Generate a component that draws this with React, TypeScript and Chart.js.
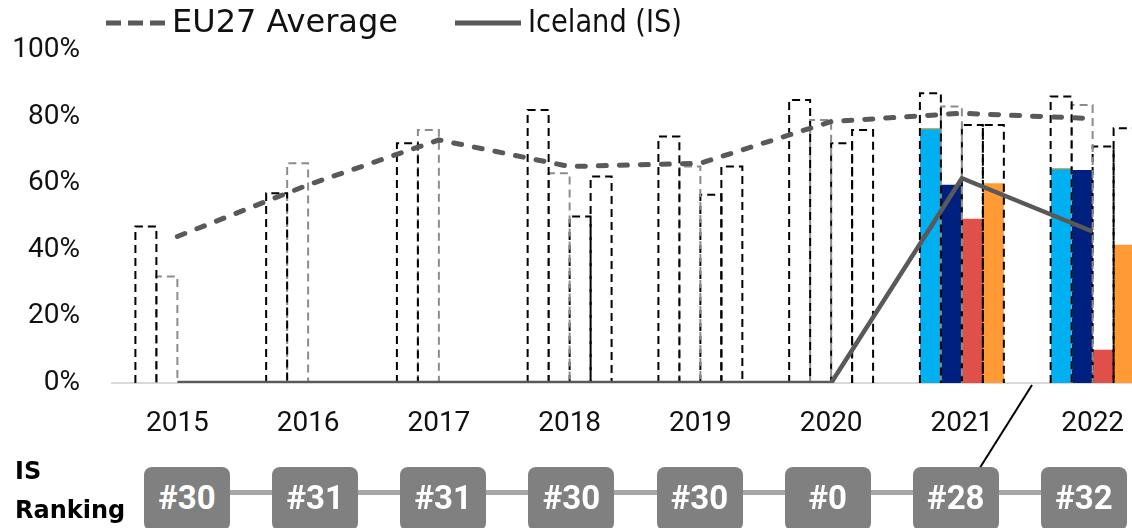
import React, { useEffect, useRef } from "react";
import { Chart, registerables } from "chart.js";

Chart.register(...registerables);

// ---- Data ----
const years = ["2015", "2016", "2017", "2018", "2019", "2020", "2021", "2022"];

// Iceland component values (filled bars)
const isComp1 = [0, 0, 0, 0, 0, 0, 76.5, 64.5];
const isComp2 = [0, 0, 0, 0, 0, 0, 59.5, 64];
const isComp3 = [0, 0, 0, 0, 0, 0, 49.3, 10];
const isComp4 = [0, 0, 0, 0, 0, 0, 60, 41.5];

// EU27 component averages (dashed outline bars)
const euComp1 = [47, 57, 72, 82, 74, 85, 87, 86];
const euComp2 = [32, 66, 76, 63, 65, 79, 83, 83.5];
const euComp3 = [null, null, null, 50, 56.5, 72, 77.5, 71];
const euComp4 = [null, null, null, 62, 65, 76, 77.5, 76.5];

// Overall lines
const eu27Average = [44, 59.5, 73, 65, 66, 78.5, 81, 79.4];
const icelandTotal = [0, 0, 0, 0, 0, 0, 61.5, 45.5];

// Ranking row
const rankings = ["#30", "#31", "#31", "#30", "#30", "#0", "#28", "#32"];

const legendLabels = ["EU27 Average", "Iceland (IS)"];

const LINE_GREY = "#595959";

const dashedOutlinePlugin = {
  id: "dashedOutline",
  afterDatasetDraw(chart: any, args: any) {
    const ds = chart.data.datasets[args.index];
    if (!ds.outlineColor) return;
    const ctx = chart.ctx;
    ctx.save();
    ctx.strokeStyle = ds.outlineColor;
    ctx.lineWidth = 2;
    ctx.setLineDash([8, 5]);
    args.meta.data.forEach((el: any, i: number) => {
      const v = ds.data[i];
      if (v == null) return;
      const { x, y, base, width } = el.getProps(["x", "y", "base", "width"], true);
      const l = x - width / 2;
      const r = x + width / 2;
      ctx.beginPath();
      ctx.moveTo(l, base);
      ctx.lineTo(l, y);
      ctx.lineTo(r, y);
      ctx.lineTo(r, base);
      ctx.stroke();
    });
    ctx.restore();
  },
};

const decorPlugin = {
  id: "decor",
  afterDraw(chart: any) {
    const ctx = chart.ctx;
    ctx.save();
    // legend
    const ly = 23;
    ctx.strokeStyle = LINE_GREY;
    ctx.lineWidth = 5;
    ctx.setLineDash([15, 7]);
    ctx.beginPath();
    ctx.moveTo(106, ly);
    ctx.lineTo(165, ly);
    ctx.stroke();
    ctx.setLineDash([]);
    ctx.beginPath();
    ctx.moveTo(455, ly);
    ctx.lineTo(521, ly);
    ctx.stroke();
    ctx.fillStyle = "#111";
    ctx.font = "32px 'DejaVu Sans'";
    ctx.textBaseline = "middle";
    ctx.textAlign = "left";
    ctx.fillText(legendLabels[0], 172, ly + 1, 226);
    ctx.fillText(legendLabels[1], 528, ly + 1, 154);
    // leader line
    ctx.strokeStyle = "#000";
    ctx.lineWidth = 2;
    ctx.beginPath();
    ctx.moveTo(1032, 385);
    ctx.lineTo(942, 528);
    ctx.stroke();
    ctx.restore();
  },
};

export default function App() {
  const ref = useRef<HTMLCanvasElement>(null);

  useEffect(() => {
    if (!ref.current) return;
    const tickFont = { family: "Roboto", size: 28 };
    const stacks = ["c1", "c2", "c3", "c4"];
    const isColors = ["#00B0F0", "#002080", "#E0504A", "#FF9A35"];
    const isData = [isComp1, isComp2, isComp3, isComp4];
    const euData = [euComp1, euComp2, euComp3, euComp4];
    const euOutline = ["#000000", "#8C8C8C", "#000000", "#000000"];

    const datasets: any[] = [
      {
        type: "line",
        label: legendLabels[0],
        data: eu27Average,
        borderColor: LINE_GREY,
        borderWidth: 5,
        borderDash: [8, 13],
        borderCapStyle: "round",
        pointRadius: 0,
        tension: 0,
        order: 1,
      },
      {
        type: "line",
        label: legendLabels[1],
        data: icelandTotal,
        borderColor: LINE_GREY,
        borderWidth: 4.5,
        pointRadius: 0,
        tension: 0,
        order: 1,
      },
    ];
    euData.forEach((d, i) => {
      datasets.push({
        type: "bar",
        label: "EU " + stacks[i],
        data: d,
        stack: stacks[i],
        backgroundColor: "rgba(0,0,0,0)",
        borderWidth: 0,
        outlineColor: euOutline[i],
        order: 2,
      });
    });
    isData.forEach((d, i) => {
      datasets.push({
        type: "bar",
        label: "IS " + stacks[i],
        data: d,
        stack: stacks[i],
        backgroundColor: isColors[i],
        borderColor: i === 0 ? "#548235" : isColors[i],
        borderWidth: i === 0 ? { top: 1.5, left: 0, right: 0, bottom: 0 } : 0,
        order: 3,
      });
    });

    const chart = new Chart(ref.current, {
      type: "bar",
      data: { labels: years, datasets },
      options: {
        animation: false,
        responsive: false,
        maintainAspectRatio: false,
        layout: { padding: { top: 50, right: 2, left: 0, bottom: 0 } },
        datasets: { bar: { categoryPercentage: 0.642, barPercentage: 1 } },
        plugins: { legend: { display: false }, tooltip: { enabled: false } },
        scales: {
          x: {
            stacked: true,
            grid: { display: false, drawTicks: false },
            border: { display: true, color: "#D9D9D9", width: 2 },
            ticks: { font: tickFont, color: "#111", padding: 24 },
            afterFit: (s: any) => {
              s.height = 145;
            },
          },
          y: {
            stacked: false,
            min: 0,
            max: 100,
            grid: { display: false, drawTicks: false },
            border: { display: false },
            ticks: {
              stepSize: 20,
              font: tickFont,
              color: "#111",
              padding: 32,
              callback: (v: any) => v + "%",
            },
            afterFit: (s: any) => {
              s.width = 112;
            },
          },
        },
      } as any,
      plugins: [dashedOutlinePlugin, decorPlugin],
    });
    return () => chart.destroy();
  }, []);

  const first = 187;
  const step = 128.14;
  return (
    <div
      style={{
        position: "fixed",
        left: 0,
        top: 0,
        width: 1132,
        height: 528,
        overflow: "hidden",
        background: "#fff",
      }}
    >
      <canvas ref={ref} width={1160} height={528} style={{ display: "block" }} />
      <div
        style={{
          position: "absolute",
          left: 15,
          top: 452,
          font: "bold 24px 'DejaVu Sans'",
          color: "#000",
          lineHeight: "39px",
        }}
      >
        <div>IS</div>
        <div>Ranking</div>
      </div>
      <div
        style={{
          position: "absolute",
          left: first,
          top: 490,
          width: step * (rankings.length - 1),
          height: 5,
          background: "#A6A6A6",
        }}
      />
      {rankings.map((r, i) => (
        <div
          key={i}
          style={{
            position: "absolute",
            left: first + i * step - 43,
            top: 467,
            width: 86,
            height: 64,
            borderRadius: 8,
            background: "#808080",
            color: "#fff",
            font: "bold 33px Roboto",
            display: "flex",
            alignItems: "center",
            justifyContent: "center",
            paddingBottom: 4,
            boxSizing: "border-box",
          }}
        >
          {r}
        </div>
      ))}
    </div>
  );
}
